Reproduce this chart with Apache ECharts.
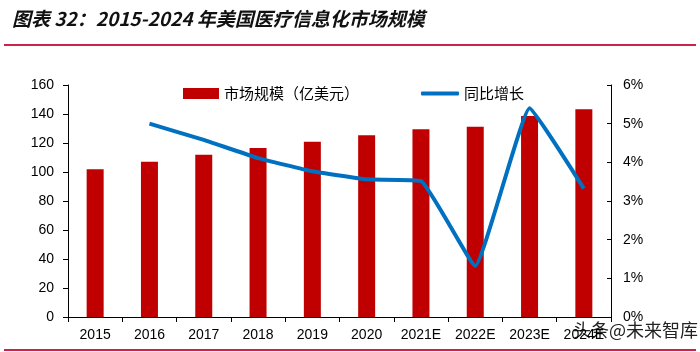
<!DOCTYPE html>
<html>
<head>
<meta charset="utf-8">
<script src="https://cdn.jsdelivr.net/npm/echarts@6/dist/echarts.min.js"></script>
<style>
  html, body { margin: 0; padding: 0; background: #fff; }
  #chart { width: 700px; height: 352px; }
</style>
</head>
<body>
<div id="chart"></div>
<script>
// 年份
const years = ["2015", "2016", "2017", "2018", "2019", "2020", "2021E", "2022E", "2023E", "2024E"];
// 市场规模（亿美元）
const marketSize = [101.9, 107.1, 111.9, 116.5, 120.9, 125.3, 129.4, 131.2, 138.6, 143.2];
// 同比增长 (%)
const growth = [null, 5.0, 4.58, 4.11, 3.77, 3.56, 3.52, 1.32, 5.40, 3.32];

const chart = echarts.init(document.getElementById("chart"));
const axisFont = { color: "#000", fontSize: 14, fontFamily: "Liberation Sans, Arial" };
const cjk = "Noto Sans CJK SC";

chart.setOption({
  animation: false,
  graphic: [
    {
      type: "text", left: 12, top: 9,
      style: {
        text: "图表 32：2015-2024 年美国医疗信息化市场规模",
        font: "italic bold 19px 'Noto Sans CJK SC'", fill: "#111"
      }
    },
    { type: "rect", shape: { x: 4, y: 44, width: 692, height: 2 }, style: { fill: "#C8254A" } },
    { type: "rect", shape: { x: 4, y: 349, width: 692, height: 2 }, style: { fill: "#C8254A" } },
    {
      type: "text", right: 2, top: 321,
      style: { text: "头条@未来智库", font: "18px 'Noto Sans CJK SC'", fill: "#222" }
    }
  ],
  grid: { left: 68, right: 89, top: 85, bottom: 35 },
  legend: [
    {
      data: [{ name: "市场规模（亿美元）", icon: "rect" }], left: 178, top: 81,
      itemWidth: 36, itemHeight: 11,
      textStyle: { fontFamily: cjk, fontSize: 15, color: "#000" }
    },
    {
      data: [{ name: "同比增长", icon: "roundRect" }], left: 416, top: 81,
      itemWidth: 38, itemHeight: 4,
      textStyle: { fontFamily: cjk, fontSize: 15, color: "#000" }
    }
  ],
  xAxis: {
    type: "category",
    data: years,
    axisLine: { lineStyle: { color: "#000", width: 1 } },
    axisTick: { show: true, length: 5, lineStyle: { color: "#000" } },
    axisLabel: { ...axisFont, margin: 11 }
  },
  yAxis: [
    {
      type: "value", min: 0, max: 160, interval: 20,
      axisLine: { show: true, lineStyle: { color: "#000" } },
      axisTick: { show: true, length: 5, lineStyle: { color: "#000" } },
      axisLabel: { ...axisFont, margin: 14 },
      splitLine: { show: false }
    },
    {
      type: "value", min: 0, max: 6, interval: 1,
      axisLine: { show: true, lineStyle: { color: "#000" } },
      axisTick: { show: true, inside: true, length: 4, lineStyle: { color: "#000" } },
      axisLabel: { ...axisFont, margin: 12, formatter: "{value}%" },
      splitLine: { show: false }
    }
  ],
  series: [
    {
      name: "市场规模（亿美元）",
      type: "bar",
      data: marketSize,
      barWidth: 17,
      itemStyle: { color: "#C00000" }
    },
    {
      name: "同比增长",
      type: "line",
      yAxisIndex: 1,
      data: growth,
      symbol: "none",
      smooth: 0.1,
      lineStyle: { color: "#0070C0", width: 4 },
      itemStyle: { color: "#0070C0" }
    }
  ]
});
</script>
</body>
</html>
